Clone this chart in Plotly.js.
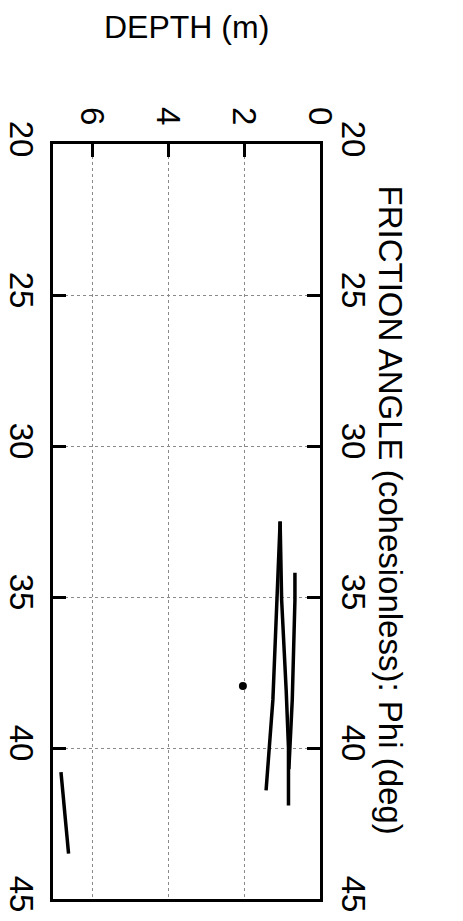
<!DOCTYPE html>
<html>
<head>
<meta charset="utf-8">
<script src="https://cdn.plot.ly/plotly-3.0.1.min.js"></script>
<style>
  html, body { margin: 0; padding: 0; background: #ffffff; }
  #plot { width: 463px; height: 921px; }
</style>
</head>
<body>
<div id="plot"></div>
<script>
// Friction angle (deg) against depth (m), one line per layer
const layerA_phi   = [32.5, 35.1, 38.4, 41.4];
const layerA_depth = [1.05, 1.14, 1.24, 1.42];

const layerB_phi   = [32.5, 35.1, 38.1, 40.0, 41.9];
const layerB_depth = [1.05, 1.01, 0.89, 0.83, 0.83];

const layerC_phi   = [34.2, 35.1, 38.4, 40.7];
const layerC_depth = [0.66, 0.66, 0.73, 0.82];

const layerD_phi   = [40.8, 43.5];
const layerD_depth = [6.82, 6.62];

const point_phi   = [37.95];
const point_depth = [2.03];

const depthTicks = [0, 2, 4, 6];
const phiTicks   = [20, 25, 30, 35, 40, 45];

const font = '"Liberation Sans", Arial, sans-serif';

function layer(depth, phi) {
  return {
    x: depth, y: phi, type: 'scatter', mode: 'lines',
    line: { color: '#000000', width: 3.5 },
    hoverinfo: 'skip', showlegend: false
  };
}

const traces = [
  layer(layerA_depth, layerA_phi),
  layer(layerB_depth, layerB_phi),
  layer(layerC_depth, layerC_phi),
  layer(layerD_depth, layerD_phi),
  {
    x: point_depth, y: point_phi, type: 'scatter', mode: 'markers',
    marker: { color: '#000000', size: 8 },
    showlegend: false
  },
  // carries the right-hand friction-angle axis
  {
    x: [0], y: [20], xaxis: 'x', yaxis: 'y2', type: 'scatter', mode: 'markers',
    marker: { opacity: 0 }, hoverinfo: 'skip', showlegend: false
  }
];

const tickFont = { family: font, size: 33, color: '#000000' };

const layout = {
  width: 463,
  height: 921,
  margin: { l: 53, r: 143, t: 144, b: 22 },
  paper_bgcolor: '#ffffff',
  plot_bgcolor: '#ffffff',
  showlegend: false,
  xaxis: {
    range: [7.03, 0],
    side: 'top',
    tickvals: depthTicks,
    ticktext: depthTicks.map(String),
    tickangle: 90,
    ticks: 'inside',
    ticklen: 13,
    tickwidth: 3,
    tickcolor: '#000000',
    tickfont: tickFont,
    ticklabelstandoff: 4,
    showline: true,
    mirror: true,
    linecolor: '#000000',
    linewidth: 3,
    showgrid: true,
    gridcolor: '#8a8a8a',
    gridwidth: 1,
    griddash: 'dot',
    zeroline: false
  },
  yaxis: {
    range: [45, 20],
    side: 'left',
    tickvals: phiTicks,
    ticktext: phiTicks.map(String),
    tickangle: 90,
    ticks: 'inside',
    ticklen: 13,
    tickwidth: 3,
    tickcolor: '#000000',
    tickfont: tickFont,
    showline: true,
    mirror: true,
    linecolor: '#000000',
    linewidth: 3,
    showgrid: true,
    gridcolor: '#8a8a8a',
    gridwidth: 1,
    griddash: 'dot',
    zeroline: false
  },
  yaxis2: {
    overlaying: 'y',
    side: 'right',
    range: [45, 20],
    tickvals: phiTicks,
    ticktext: phiTicks.map(String),
    tickangle: 90,
    ticks: 'inside',
    ticklen: 13,
    tickwidth: 3,
    tickcolor: '#000000',
    tickfont: tickFont,
    ticklabelstandoff: 14,
    showline: false,
    showgrid: false,
    zeroline: false
  },
  annotations: [
    {
      text: 'DEPTH (m)',
      xref: 'paper', yref: 'paper',
      x: 0.5, y: 1,
      xanchor: 'center', yanchor: 'middle',
      yshift: 117,
      showarrow: false,
      font: { family: font, size: 32, color: '#000000' }
    },
    {
      text: 'FRICTION ANGLE (cohesionless): Phi (deg)',
      xref: 'paper', yref: 'paper',
      x: 1, y: 0.5,
      xanchor: 'center', yanchor: 'middle',
      xshift: 70, yshift: 12,
      textangle: 90,
      showarrow: false,
      font: { family: font, size: 33, color: '#000000' }
    }
  ]
};

Plotly.newPlot('plot', traces, layout, { staticPlot: true, displayModeBar: false });
</script>
</body>
</html>
